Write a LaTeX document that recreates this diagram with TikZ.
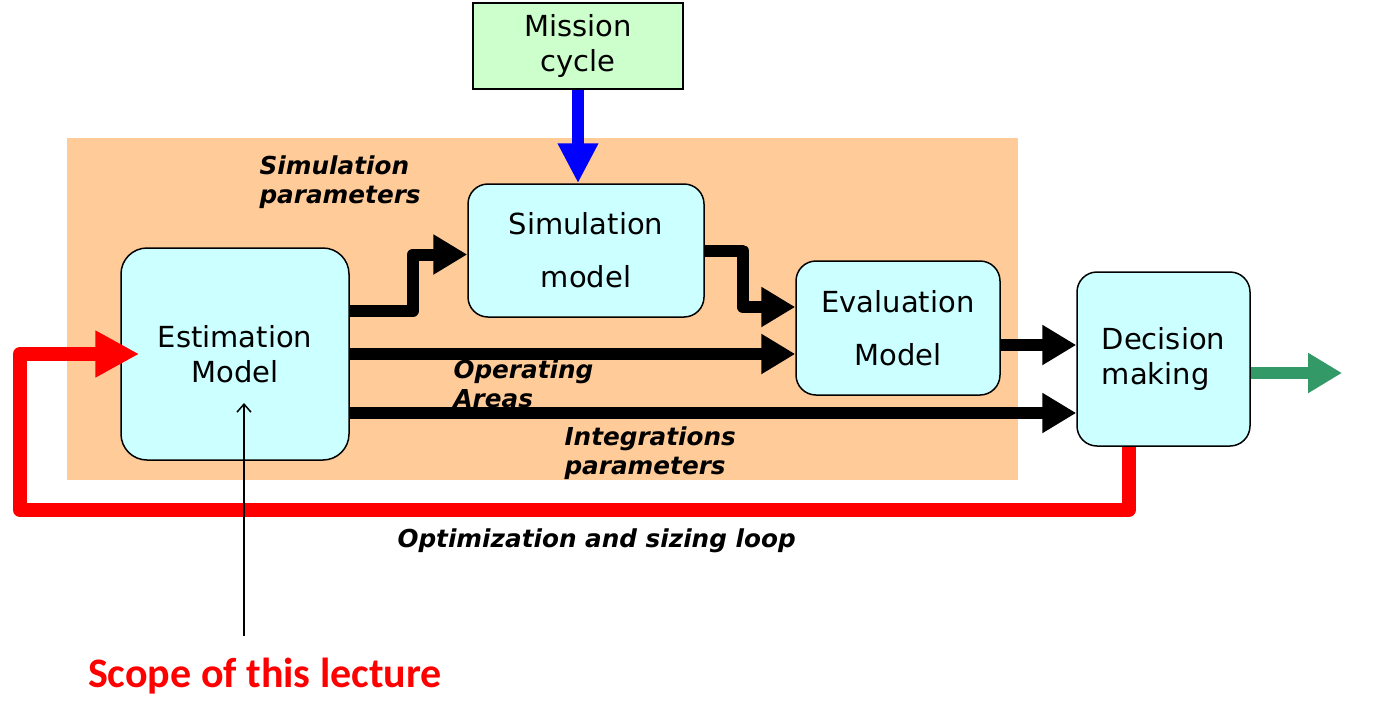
\documentclass[tikz,border=0pt]{standalone}
\usepackage{fontspec}
\setmainfont{DejaVu Sans}
\newfontfamily\scopefont{Carlito}
\usetikzlibrary{arrows.meta, positioning}

\definecolor{areaorange}{HTML}{FFCC99}
\definecolor{boxcyan}{HTML}{CCFFFF}
\definecolor{boxgreen}{HTML}{CCFFCC}
\definecolor{outgreen}{HTML}{339966}

\begin{document}
\begin{tikzpicture}[
	x=1pt, y=-1pt,
	block/.style={draw, line width=1.5pt, rounded corners=20pt, fill=boxcyan, align=center, font=\fontsize{29}{35}\selectfont},
	inbox/.style={draw, line width=1.5pt, fill=boxgreen, align=center, font=\fontsize{29}{35}\selectfont},
	flow/.style={line width=12pt, line join=round, -{Triangle[length=34pt, width=38pt]}},
	label/.style={font=\fontsize{24.7}{29}\selectfont\bfseries\itshape, align=left, anchor=west}
	]
	\useasboundingbox (0,0) rectangle (1382,723);
	
	% ======================
	% Hintergrund
	% ======================
	\fill[areaorange] (67,138) rectangle (1018,480);
	
	% ======================
	% Bloecke
	% ======================
	\node[inbox, minimum width=210pt, minimum height=86pt] (MC) at (578,46) {Mission\\cycle};
	\node[block, minimum width=228pt, minimum height=212pt, rounded corners=26pt] (EST) at (235,354) {Estimation\\Model};
	\node[block, minimum width=236pt, minimum height=133pt] (SIM) at (586,250.5) {Simulation\\[18pt]model};
	\node[block, minimum width=204pt, minimum height=134pt] (EVAL) at (898,328) {Evaluation\\[18pt]Model};
	\node[block, minimum width=173pt, minimum height=174pt, align=left] (DEC) at (1163.5,359) {Decision\\making};
	
	% Beschriftungen
	\node[label] (SP) at (256,182) {Simulation\\parameters};
	\node[label] (OA) at (450,384) {Operating\\Areas};
	\node[label] (IP) at (561,453) {Integrations\\parameters};
	\node[label] (OL) at (394,541) {Optimization and sizing loop};
	\node[text=red, font=\fontsize{42}{50}\selectfont\scopefont\bfseries] (SC) at (265,676) {Scope of this lecture};
	
	\coordinate (OUT) at (1342,373);
	\coordinate (LOOP) at (20,510);
	\coordinate (SCtop) at (244,636);
	\coordinate (ESTin) at (244,403);
	
	% ======================
	% Pfeile
	% ======================
	\draw[flow, blue, -{Triangle[length=40pt, width=38pt]}] (MC.south) -- (MC.south |- SIM.north);
	\draw[flow] ([yshift=43pt]EST.east) -- ++(63,0) |- ([yshift=-4pt]SIM.west);
	\draw[flow] (SIM.east) -- ++(38,0) |- ([yshift=21pt]EVAL.west);
	\draw[flow] (EST.east) -- (EST.east -| EVAL.west);
	\draw[flow] ([yshift=-59pt]EST.east) -- ([yshift=-59pt]EST.east -| DEC.west);
	\draw[flow] ([yshift=-17pt]EVAL.east) -- ([yshift=-17pt]EVAL.east -| DEC.west);
	\draw[flow, outgreen] ([yshift=-14pt]DEC.east) -- (OUT);
	
	% Optimierungsschleife
	\draw[flow, red, line width=14pt, -{Triangle[length=44pt, width=44pt]}] ([xshift=-35pt]DEC.south) |- (LOOP) |- ([xshift=19pt]EST.west);
	
	\draw[line width=1.5pt, -{Straight Barb[length=8pt, width=14pt]}] (SCtop) -- (ESTin);
	
\end{tikzpicture}
\end{document}
